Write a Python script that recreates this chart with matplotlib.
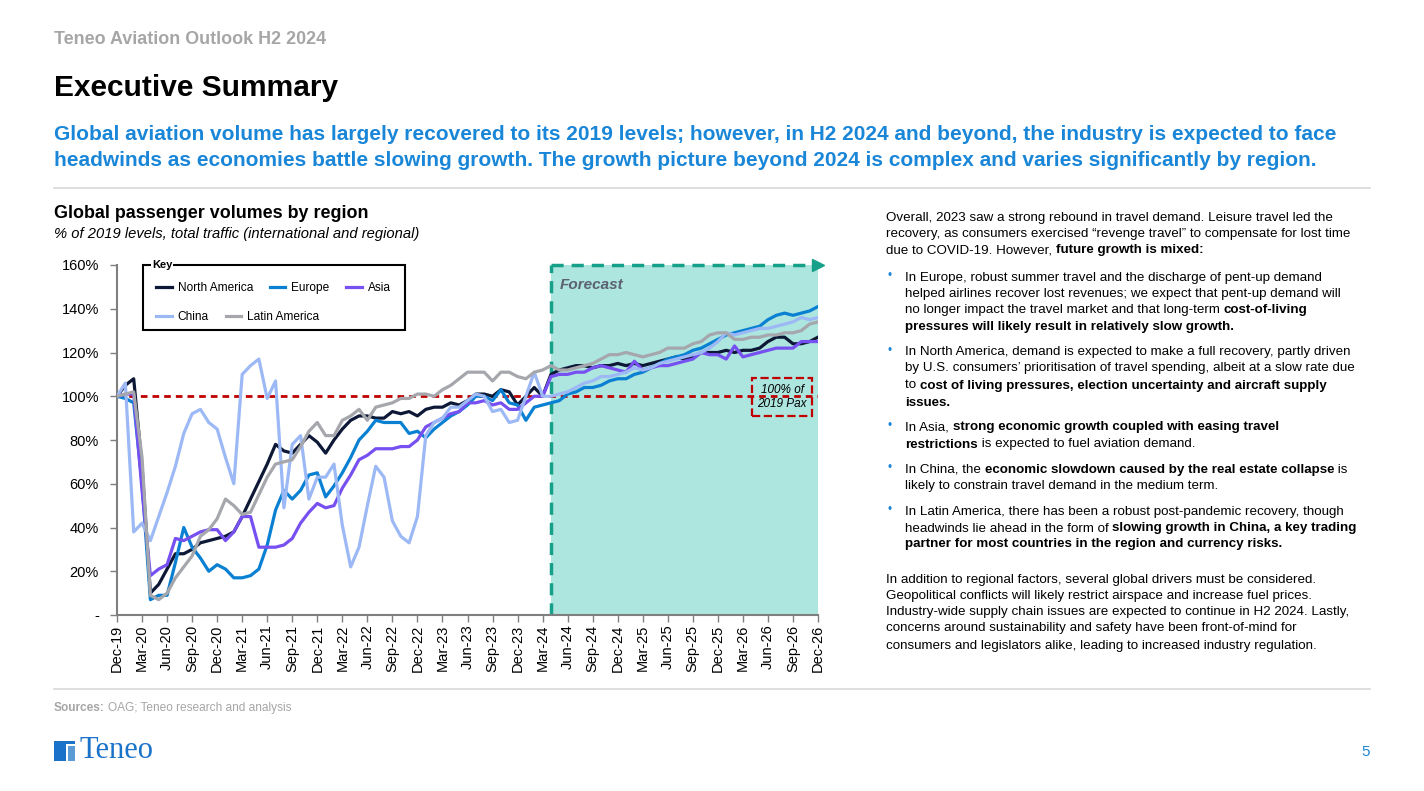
import matplotlib
matplotlib.use('Agg')
import matplotlib.pyplot as plt
import numpy as np
import pandas as pd
from matplotlib.patches import Rectangle
from matplotlib.lines import Line2D

plt.rcParams['font.family'] = ['Liberation Sans', 'DejaVu Sans']

# monthly categories Dec-19 .. Dec-26
months = pd.date_range('2019-12-01', periods=85, freq='MS').strftime('%b-%y').tolist()
forecast_label = 'Apr-24'

north_america = [100, 105, 108, 68, 10, 14, 21, 28, 28, 30, 33, 34, 35, 36, 38, 45, 53, 61, 69, 78,
                 75, 74, 78, 82, 79, 74, 80, 85, 89, 91, 91, 90, 90, 93, 92, 93, 91, 94, 95, 95,
                 97, 96, 98, 101, 101, 100, 103, 102, 96, 100, 104, 100, 110, 112, 113, 114, 114, 113, 114, 114,
                 115, 114, 115, 114, 115, 116, 117, 118, 117, 118, 120, 120, 120, 121, 120, 121, 121, 122, 125, 127,
                 127, 124, 124, 125, 127]
europe = [100, 99, 97, 60, 7, 9, 9, 24, 40, 31, 26, 20, 23, 21, 17, 17, 18, 21, 32, 48,
          57, 53, 57, 64, 65, 54, 59, 65, 72, 80, 84, 89, 88, 88, 88, 83, 84, 81, 85, 88,
          91, 93, 96, 100, 100, 98, 103, 97, 96, 89, 95, 96, 97, 98, 101, 102, 104, 104, 105, 107,
          108, 108, 110, 111, 113, 115, 117, 118, 119, 121, 122, 124, 126, 128, 129, 130, 131, 132, 135, 137,
          138, 137, 138, 139, 141]
asia = [100, 101, 101, 57, 18, 21, 23, 35, 34, 36, 38, 39, 39, 34, 38, 45, 45, 31, 31, 31,
        32, 35, 42, 47, 51, 49, 50, 58, 64, 71, 73, 76, 76, 76, 77, 77, 80, 86, 88, 90,
        92, 93, 97, 97, 98, 96, 97, 94, 94, 97, 100, 100, 109, 110, 110, 111, 111, 113, 114, 113,
        112, 111, 116, 112, 113, 114, 114, 115, 116, 117, 120, 119, 119, 117, 123, 118, 119, 120, 121, 122,
        122, 122, 125, 125, 125]
china = [100, 106, 38, 42, 34, 45, 56, 68, 83, 92, 94, 88, 85, 72, 60, 110, 114, 117, 99, 107,
         49, 78, 82, 53, 63, 63, 69, 41, 22, 31, 50, 68, 63, 43, 36, 33, 45, 82, 88, 90,
         95, 95, 98, 101, 100, 93, 94, 88, 89, 100, 111, 100, 100, 101, 102, 104, 106, 107, 109, 109,
         110, 111, 113, 112, 113, 115, 116, 117, 118, 119, 120, 122, 125, 129, 128, 129, 130, 131, 131, 132,
         133, 134, 136, 135, 136]
latin_america = [100, 101, 102, 72, 9, 7, 10, 17, 22, 27, 36, 39, 44, 53, 50, 46, 47, 55, 63, 69,
                 70, 71, 77, 84, 88, 82, 82, 89, 91, 94, 89, 95, 96, 97, 99, 99, 101, 101, 100, 103,
                 105, 108, 111, 111, 111, 107, 111, 111, 109, 108, 111, 112, 114, 112, 112, 113, 114, 115, 117, 119,
                 119, 120, 119, 118, 119, 120, 122, 122, 122, 124, 125, 128, 129, 129, 126, 126, 127, 127, 128, 128,
                 129, 129, 130, 133, 134]

series_names = ['North America', 'Europe', 'Asia', 'China', 'Latin America']
series_values = [north_america, europe, asia, china, latin_america]
series_colors = ['#0c1836', '#0a80d2', '#7650f0', '#9cb9f6', '#a5a7ad']

W, H = 1424, 791


def fx(x):
    return x / W


def fy(y):
    return 1 - y / H


fig = plt.figure(figsize=(W / 100, H / 100), dpi=100)
renderer = fig.canvas.get_renderer()

# ---------------- header ----------------
fig.text(fx(54), fy(40), 'Teneo Aviation Outlook H2 2024', fontsize=12.9, fontweight='bold',
         color='#a6a6a6', va='center')
fig.text(fx(54), fy(88), 'Executive Summary', fontsize=21.5, fontweight='bold', color='black', va='center')
blue = '#1a86d8'
fig.text(fx(54), fy(135), 'Global aviation volume has largely recovered to its 2019 levels; however, in H2 2024 '
         'and beyond, the industry is expected to face', fontsize=15, fontweight='bold', color=blue, va='center')
fig.text(fx(54), fy(160), 'headwinds as economies battle slowing growth. The growth picture beyond 2024 is '
         'complex and varies significantly by region.', fontsize=15, fontweight='bold', color=blue, va='center')
for yy in (188, 689):
    fig.add_artist(Line2D([fx(54), fx(1370)], [fy(yy), fy(yy)], color='#d9d9d9', lw=1.2))

fig.text(fx(54), fy(214), 'Global passenger volumes by region', fontsize=12.9, fontweight='bold', va='center')
fig.text(fx(54), fy(234), '% of 2019 levels, total traffic (international and regional)', fontsize=10.6,
         style='italic', va='center')

# ---------------- chart ----------------
ax = fig.add_axes([fx(117), fy(615), 701 / W, 350 / H])
x = np.arange(len(months))
fc = months.index(forecast_label)
last = len(months) - 1

ax.axvspan(fc, last, color='#ade5df', lw=0, zorder=0)
teal = '#16a08a'
ax.plot([fc, fc], [0, 160], color=teal, lw=2.5, ls=(0, (3.5, 2.3)), zorder=1, clip_on=False)
ax.plot([fc, last - 0.6], [160, 160], color=teal, lw=2.5, ls=(0, (3.5, 2.3)), zorder=1, clip_on=False)
ax.plot([last], [160], marker='>', ms=9, color=teal, clip_on=False, zorder=1)
ax.text(fc + 1, 151, 'Forecast', fontsize=11, fontweight='bold', style='italic', color='#5b6272', va='center')

ax.axhline(100, color='#c00000', lw=2, ls=(0, (2.4, 1.8)), zorder=2)

handles = []
for name, vals, col in zip(series_names, series_values, series_colors):
    h, = ax.plot(x, vals, color=col, lw=2.3, label=name, zorder=3, solid_joinstyle='round')
    handles.append(h)

ax.text(79.7, 99.7, '100% of\n2019 Pax', fontsize=8.5, style='italic', ha='center', va='center', zorder=4,
        linespacing=1.3,
        bbox=dict(boxstyle='square,pad=0.45', fc='none', ec='#c00000', ls='--', lw=1.6))

ax.set_xlim(0, last)
ax.set_ylim(0, 160)
ax.set_xticks(x[::3])
ax.set_xticklabels(months[::3], rotation=90, fontsize=10.5)
ax.set_yticks(range(0, 161, 20))
ax.set_yticklabels(['-'] + [f'{v}%' for v in range(20, 161, 20)], fontsize=10.5)
ax.tick_params(axis='y', length=5, width=1, color='#7f7f7f', pad=8)
ax.tick_params(axis='x', length=5, width=1, color='#7f7f7f', pad=2)
for s in ('top', 'right'):
    ax.spines[s].set_visible(False)
for s in ('left', 'bottom'):
    ax.spines[s].set_color('#7f7f7f')
    ax.spines[s].set_linewidth(1.5)
ax.patch.set_alpha(0)

# legend ("Key") box
key_box = Rectangle((0.037, 0.814), 0.374, 0.186, transform=ax.transAxes, fc='white', ec='black', lw=1.5,
                    zorder=5, clip_on=False)
ax.add_patch(key_box)
leg_kw = dict(loc='upper left', frameon=False, fontsize=8.6, handlelength=1.3, handletextpad=0.5,
              columnspacing=1.4, borderaxespad=0, borderpad=0)
leg1 = ax.legend(handles[:3], series_names[:3], ncol=3, bbox_to_anchor=(0.056, 0.952), **leg_kw)
leg1.set_zorder(6)
ax.add_artist(leg1)
leg2 = ax.legend(handles[3:], series_names[3:], ncol=2, bbox_to_anchor=(0.056, 0.869), **leg_kw)
leg2.set_zorder(6)
ax.text(0.05, 1.0, 'Key', transform=ax.transAxes, fontsize=8, fontweight='bold', va='center', ha='left',
        zorder=7, bbox=dict(fc='white', ec='none', pad=0.5))


# ---------------- right-hand text ----------------
def text_width(s, bold, size):
    # advance width of s: measure between two bars so ink bearings cancel out
    w8 = 'bold' if bold else 'normal'
    t1 = fig.text(0, 0, '|' + s + '|', fontsize=size, fontweight=w8)
    t2 = fig.text(0, 0, '||', fontsize=size, fontweight=w8)
    w = t1.get_window_extent(renderer).width - t2.get_window_extent(renderer).width
    t1.remove()
    t2.remove()
    return w


body_size = 9.6


def draw_runs(x0, yc, parts, size=body_size):
    cx = x0
    for s, bold in parts:
        fig.text(fx(cx), fy(yc + 4.5), s, fontsize=size, fontweight='bold' if bold else 'normal',
                 color='black', va='baseline', ha='left')
        cx += text_width(s, bold, size)


N, B = False, True
# (line centre y, indent, bullet, runs)
body = [
    (216, 886, False, [('Overall, 2023 saw a strong rebound in travel demand. Leisure travel led the', N)]),
    (233, 886, False, [('recovery, as consumers exercised \u201crevenge travel\u201d to compensate for lost time', N)]),
    (249, 886, False, [('due to COVID-19. However, ', N), ('future growth is mixed:', B)]),
    (276, 905, True, [('In Europe, robust summer travel and the discharge of pent-up demand', N)]),
    (292, 905, False, [('helped airlines recover lost revenues; we expect that pent-up demand will', N)]),
    (309, 905, False, [('no longer impact the travel market and that long-term ', N), ('cost-of-living', B)]),
    (325, 905, False, [('pressures will likely result in relatively slow growth.', B)]),
    (351, 905, True, [('In North America, demand is expected to make a full recovery, partly driven', N)]),
    (367, 905, False, [('by U.S. consumers\u2019 prioritisation of travel spending, albeit at a slow rate due', N)]),
    (384, 905, False, [('to ', N), ('cost of living pressures, election uncertainty and aircraft supply', B)]),
    (401, 905, False, [('issues.', B)]),
    (426, 905, True, [('In Asia, ', N), ('strong economic growth coupled with easing travel', B)]),
    (443, 905, False, [('restrictions', B), (' is expected to fuel aviation demand.', N)]),
    (468, 905, True, [('In China, the ', N), ('economic slowdown caused by the real estate collapse', B), (' is', N)]),
    (485, 905, False, [('likely to constrain travel demand in the medium term.', N)]),
    (510, 905, True, [('In Latin America, there has been a robust post-pandemic recovery, though', N)]),
    (527, 905, False, [('headwinds lie ahead in the form of ', N), ('slowing growth in China, a key trading', B)]),
    (543, 905, False, [('partner for most countries in the region and currency risks.', B)]),
    (578, 886, False, [('In addition to regional factors, several global drivers must be considered.', N)]),
    (594, 886, False, [('Geopolitical conflicts will likely restrict airspace and increase fuel prices.', N)]),
    (611, 886, False, [('Industry-wide supply chain issues are expected to continue in H2 2024. Lastly,', N)]),
    (627, 886, False, [('concerns around sustainability and safety have been front-of-mind for', N)]),
    (644, 886, False, [('consumers and legislators alike, leading to increased industry regulation.', N)]),
]
for yc, x0, bullet, parts in body:
    if bullet:
        fig.text(fx(887), fy(yc), '\u2022', fontsize=8.5, color=blue, va='center')
    draw_runs(x0, yc, parts)

# ---------------- footer ----------------
grey = '#a6a6a6'
fig.text(fx(54), fy(708), 'Sources:', fontsize=8.6, fontweight='bold', color=grey, va='center')
fig.text(fx(54 + text_width('Sources: ', True, 8.6)), fy(708), 'OAG; Teneo research and analysis',
         fontsize=8.6, color=grey, va='center')

logo_blue = '#1a73c9'
fig.add_artist(Rectangle((fx(54), fy(761)), 12 / W, 20 / H, transform=fig.transFigure, color=logo_blue, lw=0))
fig.add_artist(Rectangle((fx(54), fy(744)), 21 / W, 3 / H, transform=fig.transFigure, color=logo_blue, lw=0))
fig.add_artist(Rectangle((fx(68), fy(761)), 7 / W, 15 / H, transform=fig.transFigure, color='#5b9bd5', lw=0))
fig.text(fx(79), fy(751), 'Teneo', fontsize=22, family='Liberation Serif', color=logo_blue, va='center')
fig.text(fx(1370), fy(752), '5', fontsize=11, color=blue, va='center', ha='right')

fig.savefig('out.png', dpi=100, facecolor='white')
